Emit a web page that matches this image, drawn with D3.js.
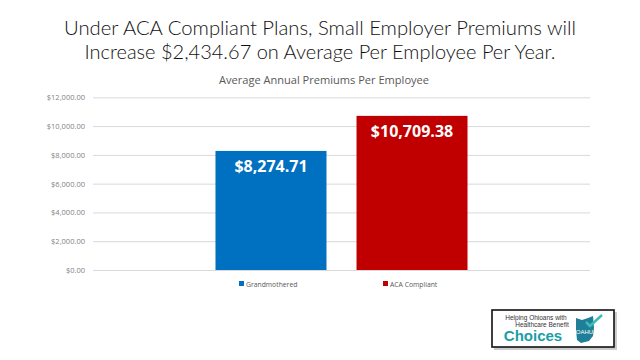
<!DOCTYPE html>
<html><head><meta charset="utf-8">
<script src="https://cdn.jsdelivr.net/npm/d3@7"></script>
<style>body{margin:0;background:#fff}svg{display:block}</style>
</head><body>
<script>
const titleLines = ["Under ACA Compliant Plans, Small Employer Premiums will", "Increase $2,434.67 on Average Per Employee Per Year."];
const chartTitle = "Average Annual Premiums Per Employee";
const seriesNames = ["Grandmothered", "ACA Compliant"];
const seriesValues = [8274.71, 10709.38];
const seriesColors = ["#0070C0", "#C00000"];
const yTicks = [0, 2000, 4000, 6000, 8000, 10000, 12000];

const W = 640, H = 360;
const svg = d3.select("body").append("svg").attr("width", W).attr("height", H);
svg.append("rect").attr("width", W).attr("height", H).attr("fill", "#fff");

// Title
const tl = [{t: titleLines[0], y: 35, len: 512}, {t: titleLines[1], y: 59, len: 471}];
svg.selectAll("text.title").data(tl).join("text").attr("class", "title")
  .attr("x", 320).attr("y", d => d.y).attr("text-anchor", "middle")
  .attr("font-family", "Lato, 'Open Sans', sans-serif").attr("font-weight", 300)
  .attr("font-size", 19.5).attr("fill", "#111")
  .attr("textLength", d => d.len).attr("lengthAdjust", "spacingAndGlyphs")
  .text(d => d.t);

svg.append("text").attr("x", 324).attr("y", 84).attr("text-anchor", "middle")
  .attr("font-family", "'Open Sans', sans-serif").attr("font-size", 10.5).attr("fill", "#595959")
  .attr("textLength", 210).attr("lengthAdjust", "spacingAndGlyphs")
  .text(chartTitle);

const x0 = 93, x1 = 590, yTop = 97.3, yBot = 270;
const y = d3.scaleLinear().domain([0, 12000]).range([yBot, yTop]);
const xOuter = d3.scaleBand().domain(["all"]).range([x0, x1]).paddingInner(0).paddingOuter(0.486);
const xInner = d3.scaleBand().domain(seriesNames).range([0, xOuter.bandwidth()]).paddingInner(0.213);

// gridlines + axis
const yAxis = d3.axisLeft(y).tickValues(yTicks).tickSize(-(x1 - x0)).tickPadding(8)
  .tickFormat(d => "$" + d3.format(",.2f")(d));
const ga = svg.append("g").attr("transform", `translate(${x0},0)`).call(yAxis);
ga.select(".domain").remove();
ga.selectAll(".tick line").attr("stroke", "#d9d9d9").attr("stroke-width", 1);
ga.selectAll(".tick text").attr("font-family", "'Open Sans', sans-serif").attr("font-size", 7.5)
  .attr("fill", "#7f7f7f");

// bars
const data = seriesNames.map((n, i) => ({name: n, value: seriesValues[i], color: seriesColors[i]}));
const g = svg.append("g").attr("transform", `translate(${xOuter("all")},0)`);
g.selectAll("rect").data(data).join("rect")
  .attr("x", d => xInner(d.name)).attr("width", xInner.bandwidth())
  .attr("y", d => y(d.value)).attr("height", d => yBot - y(d.value))
  .attr("fill", d => d.color);
g.selectAll("text").data(data).join("text")
  .attr("x", d => xInner(d.name) + xInner.bandwidth() / 2)
  .attr("y", d => y(d.value) + 21.5).attr("text-anchor", "middle")
  .attr("font-family", "'Open Sans', sans-serif").attr("font-weight", 700)
  .attr("font-size", 16).attr("fill", "#fff")
  .text(d => "$" + d3.format(",.2f")(d.value));

// legend
const legX = [239, 383];
const lg = svg.selectAll("g.leg").data(data).join("g").attr("class", "leg")
  .attr("transform", (d, i) => `translate(${legX[i]},284)`);
lg.append("rect").attr("x", 0).attr("y", -3).attr("width", 5).attr("height", 5).attr("fill", d => d.color);
lg.append("text").attr("x", 7).attr("y", 2.5).attr("font-family", "'Open Sans', sans-serif")
  .attr("font-size", 6.8).attr("fill", "#595959").text(d => d.name);

// logo
const logo = svg.append("g").attr("transform", "translate(492,310)");
logo.append("rect").attr("x", 2).attr("y", 2).attr("width", 123).attr("height", 38).attr("fill", "#999").attr("opacity", 0.5);
logo.append("rect").attr("x", 0).attr("y", 0).attr("width", 122).attr("height", 37).attr("fill", "#fff").attr("stroke", "#111").attr("stroke-width", 1.6);
logo.append("text").attr("x", 44).attr("y", 10).attr("text-anchor", "middle").attr("font-family", "'Liberation Sans', sans-serif")
  .attr("font-size", 6.5).attr("fill", "#333").text("Helping Ohioans with");
logo.append("text").attr("x", 50).attr("y", 17).attr("text-anchor", "middle").attr("font-family", "'Liberation Sans', sans-serif")
  .attr("font-size", 6.5).attr("fill", "#333").text("Healthcare Benefit");
logo.append("text").attr("x", 41).attr("y", 31).attr("text-anchor", "middle").attr("font-family", "'Liberation Sans', sans-serif")
  .attr("font-weight", 700).attr("font-size", 15).attr("fill", "#1a9ea6").text("Choices");
logo.append("path").attr("d", "M84,8 L90,10 L96,8 L101,6 L102,18 L101,26 L97,31 L93,32 L89,33 L85,30 L84,20 Z")
  .attr("fill", "#1f7f99");
logo.append("path").attr("d", "M94,12 L98,16 L110,5").attr("fill", "none").attr("stroke", "#3bbdb3").attr("stroke-width", 2.5);
logo.append("text").attr("x", 92.5).attr("y", 24).attr("text-anchor", "middle").attr("font-family", "'Liberation Sans', sans-serif")
  .attr("font-size", 6).attr("fill", "#fff").text("OAHU");
</script>
</body></html>
